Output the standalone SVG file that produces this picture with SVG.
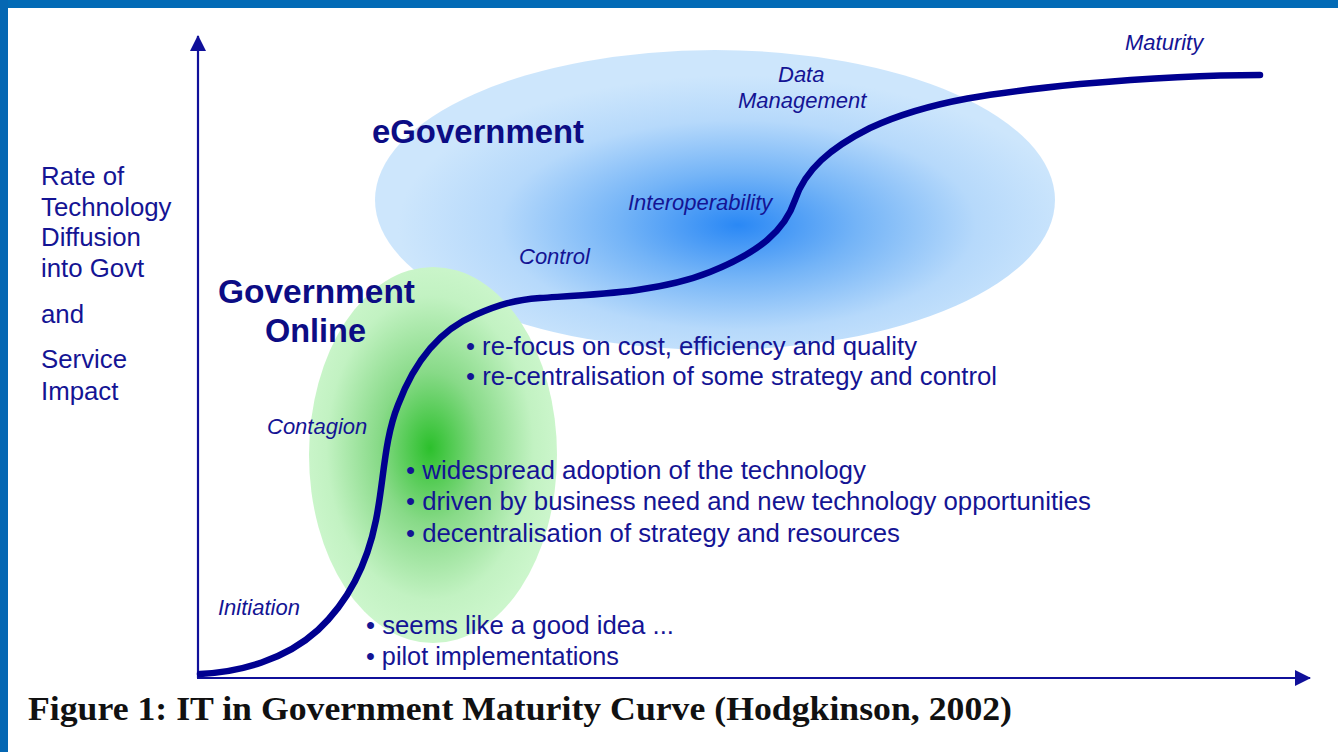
<svg xmlns="http://www.w3.org/2000/svg" width="1338" height="752" viewBox="0 0 1338 752">
  <defs>
    <radialGradient id="blueGlow" cx="738" cy="225" r="340" gradientUnits="userSpaceOnUse" gradientTransform="translate(738 225) scale(1 0.44) translate(-738 -225)">
      <stop offset="0" stop-color="#2a88f5"/>
      <stop offset="0.35" stop-color="#74b4f7"/>
      <stop offset="0.7" stop-color="#b6d9fb"/>
      <stop offset="1" stop-color="#cde6fc"/>
    </radialGradient>
    <radialGradient id="greenGlow" cx="430" cy="448" r="190" gradientUnits="userSpaceOnUse" gradientTransform="translate(430 448) scale(0.68 1) translate(-430 -448)">
      <stop offset="0" stop-color="#2cc02c"/>
      <stop offset="0.4" stop-color="#88da88"/>
      <stop offset="0.8" stop-color="#c2f2c2"/>
      <stop offset="1" stop-color="#ccf6cc"/>
    </radialGradient>
    <marker id="axisHead" markerWidth="16" markerHeight="16" refX="15" refY="8" orient="auto" markerUnits="userSpaceOnUse" viewBox="0 0 16 16">
      <path d="M0,0 L16,8 L0,16 Z" fill="#10109a"/>
    </marker>
    <style>
      .lab { font-family: "Liberation Sans", Arial, sans-serif; fill: #141494; }
      .axis { font-size: 25.8px; }
      .phase { font-size: 22px; font-style: italic; }
      .era { font-size: 33px; font-weight: bold; fill: #0c0c84; }
      .bullet { font-size: 25.5px; }
      .caption { font-family: "Liberation Serif", "Times New Roman", serif; font-weight: bold; font-size: 34px; fill: #111; }
    </style>
  </defs>

  <!-- page frame -->
  <rect x="0" y="0" width="1338" height="752" fill="#ffffff"/>
  <rect x="0" y="0" width="1338" height="8" fill="#036bb6"/>
  <rect x="0" y="0" width="8" height="752" fill="#0567b3"/>

  <!-- stage halos -->
  <g id="egov-halo">
    <ellipse cx="715" cy="200" rx="340" ry="150" fill="url(#blueGlow)"/>
  </g>
  <g id="online-halo">
    <ellipse cx="433" cy="455" rx="124" ry="188" fill="url(#greenGlow)"/>
  </g>

  <!-- axes -->
  <g id="axes" stroke="#10109a" stroke-width="2.2" fill="none">
    <line x1="198" y1="678" x2="198" y2="36" marker-end="url(#axisHead)"/>
    <line x1="197" y1="678" x2="1310" y2="678" marker-end="url(#axisHead)"/>
  </g>

  <!-- maturity curve -->
  <g id="curve">
    <path d="M200,674 C240,672 285,660 318,630 C350,600 368,560 376,520 C384,480 384,440 398,405 C415,360 440,330 475,315 C500,304 515,300 540,298 C600,294 660,292 710,272 C760,252 785,230 795,200 C805,170 830,148 870,128 C930,100 1000,92 1080,84 C1150,78 1200,75 1260,75" fill="none" stroke="#000090" stroke-width="6.5" stroke-linecap="round" stroke-linejoin="round"/>
  </g>

  <!-- vertical axis label -->
  <g id="y-label" class="lab axis">
    <text x="41" y="185">Rate of</text>
    <text x="41" y="216">Technology</text>
    <text x="41" y="246">Diffusion</text>
    <text x="41" y="277">into Govt</text>
    <text x="41" y="323">and</text>
    <text x="41" y="368">Service</text>
    <text x="41" y="400">Impact</text>
  </g>

  <!-- stage titles -->
  <g id="egov-title" class="lab era">
    <text x="372" y="143" textLength="212" lengthAdjust="spacingAndGlyphs">eGovernment</text>
  </g>
  <g id="online-title" class="lab era">
    <text x="218" y="303" textLength="197" lengthAdjust="spacingAndGlyphs">Government</text>
    <text x="265" y="342" textLength="101" lengthAdjust="spacingAndGlyphs">Online</text>
  </g>

  <!-- phase labels along the curve -->
  <g id="phases" class="lab phase">
    <text x="1125" y="50">Maturity</text>
    <text x="778" y="82">Data</text>
    <text x="738" y="108">Management</text>
    <text x="628" y="210">Interoperability</text>
    <text x="519" y="264">Control</text>
    <text x="267" y="434">Contagion</text>
    <text x="218" y="615">Initiation</text>
  </g>

  <!-- stage notes -->
  <g id="notes-egov" class="lab bullet">
    <text x="466" y="355" textLength="451" lengthAdjust="spacingAndGlyphs">• re-focus on cost, efficiency and quality</text>
    <text x="466" y="385" textLength="531" lengthAdjust="spacingAndGlyphs">• re-centralisation of some strategy and control</text>
  </g>
  <g id="notes-online" class="lab bullet">
    <text x="406" y="479" textLength="460" lengthAdjust="spacingAndGlyphs">• widespread adoption of the technology</text>
    <text x="406" y="510" textLength="685" lengthAdjust="spacingAndGlyphs">• driven by business need and new technology opportunities</text>
    <text x="406" y="542" textLength="494" lengthAdjust="spacingAndGlyphs">• decentralisation of strategy and resources</text>
  </g>
  <g id="notes-initiation" class="lab bullet">
    <text x="366" y="634" textLength="308" lengthAdjust="spacingAndGlyphs">• seems like a good idea ...</text>
    <text x="366" y="665" textLength="253" lengthAdjust="spacingAndGlyphs">• pilot implementations</text>
  </g>

  <!-- caption -->
  <text class="caption" x="28" y="720" textLength="984" lengthAdjust="spacingAndGlyphs">Figure 1: IT in Government Maturity Curve (Hodgkinson, 2002)</text>
</svg>
